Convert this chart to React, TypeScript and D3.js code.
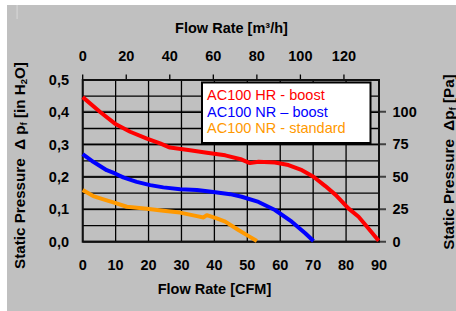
import React from "react";
import * as d3 from "d3";

const cfmTicks = [0, 10, 20, 30, 40, 50, 60, 70, 80, 90];
const m3hTicks = [0, 20, 40, 60, 80, 100, 120];
const inH2OTicks = [0, 0.1, 0.2, 0.3, 0.4, 0.5];
const inH2OLabels = ["0,0", "0,1", "0,2", "0,3", "0,4", "0,5"];
const paTicks = [0, 25, 50, 75, 100];

const seriesNames = ["AC100 HR - boost", "AC100 NR \u2013 boost", "AC100 NR - standard"];
const seriesColors = ["#ff0000", "#0000ff", "#ff9900"];

const hrBoostCfm = [0, 5.3, 9.8, 14.4, 19.5, 23.5, 26.5, 32.6, 37.7, 43.3, 48.3, 50.8, 53.4, 58.4, 62.5, 66.6, 70.1, 73.7, 76.9, 80.7, 83.8, 86.8, 89.9];
const hrBoostP = [0.447, 0.401, 0.365, 0.34, 0.319, 0.304, 0.291, 0.283, 0.275, 0.267, 0.254, 0.243, 0.247, 0.245, 0.237, 0.221, 0.201, 0.172, 0.144, 0.103, 0.077, 0.041, 0.003];

const nrBoostCfm = [0, 3.2, 7.3, 9.8, 12.3, 16.4, 20.5, 24.5, 29.6, 34.7, 39.7, 44.8, 48.3, 53.4, 58.4, 63.5, 67.6, 70.1];
const nrBoostP = [0.271, 0.247, 0.221, 0.211, 0.199, 0.185, 0.175, 0.168, 0.162, 0.16, 0.154, 0.147, 0.139, 0.123, 0.098, 0.062, 0.026, 0.002];

const nrStdCfm = [0, 3.2, 6.3, 9.8, 13.4, 19.5, 24.5, 29.6, 34.7, 36.7, 37.7, 40.7, 43.3, 47.3, 50.8, 52.9];
const nrStdP = [0.16, 0.141, 0.131, 0.12, 0.108, 0.102, 0.096, 0.09, 0.079, 0.075, 0.082, 0.072, 0.062, 0.036, 0.015, 0.002];

const seriesCfm = [hrBoostCfm, nrBoostCfm, nrStdCfm];
const seriesP = [hrBoostP, nrBoostP, nrStdP];

const W = 456;
const H = 311;
const L = 82.7;
const R = 379;
const T = 80;
const B = 241.7;

export default function App() {
  const x = d3.scaleLinear().domain([0, 90]).range([L, R]);
  const xTop = d3.scaleLinear().domain([0, 136.1]).range([L, R]);
  const y = d3.scaleLinear().domain([0, 0.5]).range([B, T]);
  const yPa = d3.scaleLinear().domain([0, 124.4]).range([B, T]);
  const hGrid = d3.range(0, 11).map((i) => i * 0.05);

  const font = "Arial, 'Liberation Sans', sans-serif";
  const line = d3
    .line<[number, number]>()
    .x((d) => x(d[0]))
    .y((d) => y(d[1]));

  return (
    <svg
      width={W}
      height={H}
      style={{ position: "absolute", left: 0, top: 0 }}
      fontFamily={font}
    >
      <rect x={0} y={0} width={W} height={H} fill="#ffffff" />
      <rect x={7} y={5} width={W - 7} height={H - 5} fill="#c0c0c0" />
      <rect x={16.5} y={5} width={1.2} height={14} fill="#d4d4d4" />

      {/* Pa gridlines */}
      {paTicks.map((t) => (
        <line key={"pg" + t} x1={L} x2={R + 7} y1={yPa(t)} y2={yPa(t)} stroke="#404040" strokeWidth={2} />
      ))}
      {/* grid */}
      {hGrid.map((t, i) => (
        <line key={"hg" + i} x1={L} x2={R} y1={y(t)} y2={y(t)} stroke="#000" strokeWidth={1.3} />
      ))}
      {cfmTicks.map((t) => (
        <line key={"vg" + t} x1={x(t)} x2={x(t)} y1={T} y2={B} stroke="#000" strokeWidth={1.3} />
      ))}
      {/* top ticks */}
      {m3hTicks.map((t) => (
        <line key={"tt" + t} x1={xTop(t)} x2={xTop(t)} y1={T - 5.5} y2={T} stroke="#000" strokeWidth={1.3} />
      ))}
      {/* frame */}
      <rect x={L} y={T} width={R - L} height={B - T} fill="none" stroke="#111" strokeWidth={2} />

      {/* curves */}
      {seriesCfm.map((xs, i) => (
        <path
          key={"s" + i}
          d={line(xs.map((v, j) => [v, seriesP[i][j]] as [number, number])) || ""}
          fill="none"
          stroke={seriesColors[i]}
          strokeWidth={4}
          strokeLinejoin="round"
          strokeLinecap="butt"
        />
      ))}

      {/* legend */}
      <rect x={202} y={82.5} width={168.5} height={60.5} fill="#ffffff" stroke="#000" strokeWidth={2} />
      {seriesNames.map((n, i) => (
        <text key={"lg" + i} x={207} y={100 + i * 16.7} fill={seriesColors[i]} fontSize={14.5}>
          {n}
        </text>
      ))}

      {/* bottom tick labels */}
      {cfmTicks.map((t) => (
        <text key={"bl" + t} x={x(t)} y={269.5} textAnchor="middle" fontSize={14.5} fontWeight="bold" fill="#000">
          {t}
        </text>
      ))}
      {/* top tick labels */}
      {m3hTicks.map((t) => (
        <text key={"tl" + t} x={xTop(t)} y={61} textAnchor="middle" fontSize={14.5} fontWeight="bold" fill="#000">
          {t}
        </text>
      ))}
      {/* left tick labels */}
      {inH2OTicks.map((t, i) => (
        <text key={"ll" + t} x={69} y={y(t) + 5} textAnchor="end" fontSize={14.5} fontWeight="bold" fill="#000">
          {inH2OLabels[i]}
        </text>
      ))}
      {/* right tick labels */}
      {paTicks.map((t) => (
        <text key={"rl" + t} x={392.5} y={yPa(t) + 5.2} textAnchor="start" fontSize={14.5} fontWeight="bold" fill="#000">
          {t}
        </text>
      ))}

      {/* titles */}
      <text x={231.5} y={33} textAnchor="middle" fontSize={14.5} fontWeight="bold">
        Flow Rate [m³/h]
      </text>
      <text x={214.5} y={294} textAnchor="middle" fontSize={14.5} fontWeight="bold">
        Flow Rate [CFM]
      </text>
      <text
        transform="translate(24.5,165.5) rotate(-90)"
        textAnchor="middle"
        fontSize={15.2}
        fontWeight="bold"
      >
        Static Pressure{"\u00a0\u00a0"}Δ p<tspan fontSize={9.5} dy={2}>f</tspan>
        <tspan dy={-2}> [in H</tspan>
        <tspan fontSize={9.5} dy={2}>2</tspan>
        <tspan dy={-2}>O]</tspan>
      </text>
      <text
        transform="translate(453.5,162) rotate(-90)"
        textAnchor="middle"
        fontSize={15.2}
        fontWeight="bold"
      >
        Static Pressure{"\u00a0\u00a0"}Δp<tspan fontSize={9.5} dy={2}>f</tspan>
        <tspan dy={-2}> [Pa]</tspan>
      </text>
    </svg>
  );
}
